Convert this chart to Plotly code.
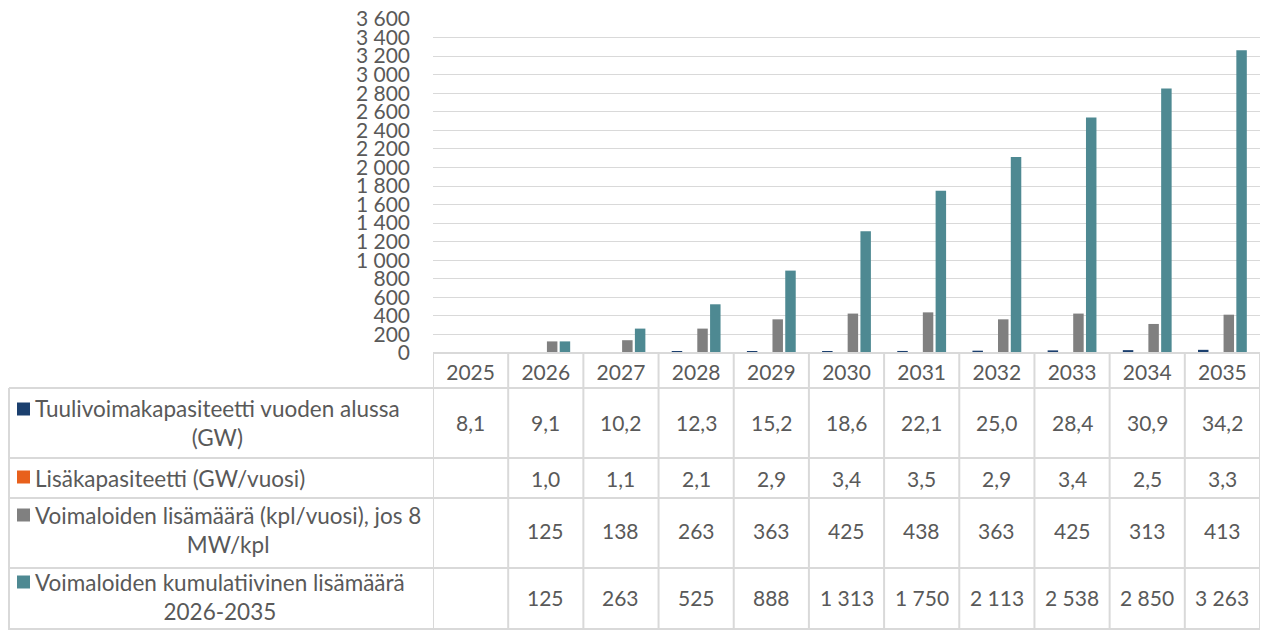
import plotly.graph_objects as go

years = [str(y) for y in range(2025, 2036)]
capacity_start = [8.1, 9.1, 10.2, 12.3, 15.2, 18.6, 22.1, 25.0, 28.4, 30.9, 34.2]
added_capacity = [None, 1.0, 1.1, 2.1, 2.9, 3.4, 3.5, 2.9, 3.4, 2.5, 3.3]
added_units = [None, 125, 138, 263, 363, 425, 438, 363, 425, 313, 413]
cumulative_units = [None, 125, 263, 525, 888, 1313, 1750, 2113, 2538, 2850, 3263]

series_names = [
    "Tuulivoimakapasiteetti vuoden alussa<br>(GW)",
    "Lisäkapasiteetti (GW/vuosi)",
    "Voimaloiden lisämäärä (kpl/vuosi), jos 8<br>MW/kpl",
    "Voimaloiden kumulatiivinen lisämäärä<br>2026-2035",
]
series_values = [capacity_start, added_capacity, added_units, cumulative_units]
series_fmt = ["dec", "dec", "int", "int"]
colors = ["#1B3F6E", "#E8601C", "#808080", "#4E8992"]

W, H = 1263, 630
FONT = "Lato"
TXT = "#595959"
GRID = "#D9D9D9"
FS = 21
FS_LBL = 22.5

def px_x(p):
    return p / W

def px_y(p):
    return 1 - p / H

def fmt(v, kind):
    if v is None:
        return ""
    if kind == "dec":
        return f"{v:.1f}".replace(".", ",")
    return f"{v:,}".replace(",", " ")

fig = go.Figure()
for name, vals, col in zip(series_names, series_values, colors):
    fig.add_trace(go.Bar(x=years, y=vals, name=name.replace("<br>", " "),
                         marker=dict(color=col, line=dict(width=0))))

x0p, x1p = 433, 1260
y_top, y_axis = 19, 353

fig.update_layout(
    width=W, height=H,
    margin=dict(l=0, r=0, t=0, b=0),
    paper_bgcolor="white", plot_bgcolor="white",
    showlegend=False,
    barmode="group", bargap=0.32, bargroupgap=0.18,
    separators=", ",
    font=dict(family=FONT, size=FS, color=TXT),
    xaxis=dict(type="category", domain=[px_x(x0p), px_x(x1p)], range=[-0.5, 10.5],
               automargin=False,
               showgrid=False, showline=False, zeroline=False,
               showticklabels=True, ticks="", ticklabelstandoff=5,
               tickfont=dict(family=FONT, size=FS, color=TXT)),
    yaxis=dict(domain=[px_y(y_axis), px_y(y_top)], range=[0, 3600],
               automargin=False,
               dtick=200, tickformat=",d", showgrid=True, gridcolor=GRID,
               gridwidth=1.3, zeroline=False, showline=False, ticks="",
               ticklabelstandoff=22,
               tickfont=dict(family=FONT, size=FS, color=TXT)),
)

shapes = []
line = dict(color=GRID, width=2)
# header row top
shapes.append(dict(type="line", xref="x", yref="paper", x0=-0.5, x1=10.5,
                   y0=px_y(353), y1=px_y(353), line=line))
# horizontal row borders
for yy in [388, 458, 498, 568, 629]:
    shapes.append(dict(type="line", xref="paper", yref="paper", x0=px_x(9), x1=px_x(1260),
                       y0=px_y(yy), y1=px_y(yy), line=line))
# vertical borders
for i in range(12):
    shapes.append(dict(type="line", xref="x", yref="paper", x0=i - 0.5, x1=i - 0.5,
                       y0=px_y(353), y1=0, line=line))
shapes.append(dict(type="line", xref="paper", yref="paper", x0=px_x(9), x1=px_x(9),
                   y0=px_y(388), y1=0, line=line))

row_centers = [423, 478, 530, 597]
row_first_line = [409, 477, 515, 582]
annotations = []
for r, (name, vals, kind, col) in enumerate(zip(series_names, series_values, series_fmt, colors)):
    ky = row_first_line[r]
    shapes.append(dict(type="rect", xref="paper", yref="paper", x0=px_x(17), x1=px_x(30),
                       y0=px_y(ky + 6.5), y1=px_y(ky - 6.5), fillcolor=col, line=dict(width=0)))
    annotations.append(dict(text=name, xref="paper", yref="paper", x=px_x(33), y=px_y(row_centers[r]),
                            xanchor="left", yanchor="middle", align="center", showarrow=False,
                            font=dict(family=FONT, size=FS_LBL, color=TXT)))
    for i, v in enumerate(vals):
        t = fmt(v, kind)
        if t:
            annotations.append(dict(text=t, xref="x", yref="paper", x=i, y=px_y(row_centers[r]),
                                    xanchor="center", yanchor="middle", showarrow=False,
                                    font=dict(family=FONT, size=FS, color=TXT)))

fig.update_layout(shapes=shapes, annotations=annotations)
fig.write_html("out.html")
